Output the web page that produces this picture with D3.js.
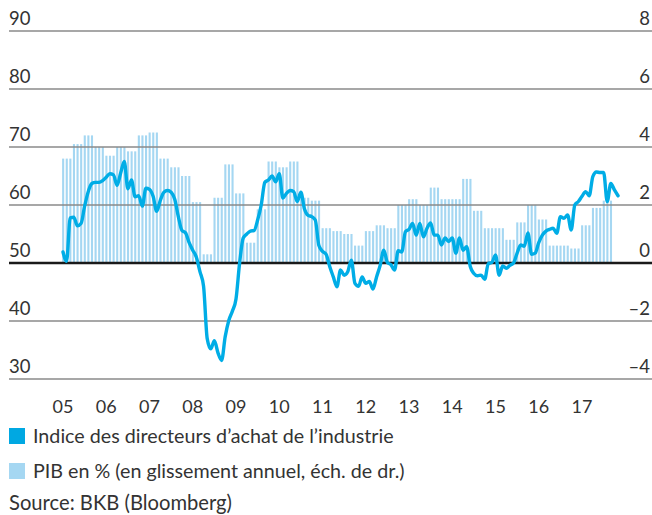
<!DOCTYPE html>
<html>
<head>
<meta charset="utf-8">
<script src="https://cdn.jsdelivr.net/npm/d3@7"></script>
<style>
  body { margin: 0; background: #fff; }
  text { font-family: Lato, "Open Sans", sans-serif; fill: #333; }
</style>
</head>
<body>
<script>
var WIDTH = 652;
var HEIGHT = 515;

// PMI industrie, mensuel, janv. 2005 - nov. 2017
var pmi = [
  51.9, 50.3, 57.8, 57.9, 56.4, 56.8, 59.8, 62.3, 63.7, 63.9, 63.9, 64.2,
  64.8, 65.4, 65.2, 63.4, 65.5, 67.5, 62.8, 64.3, 61.4, 61.6, 59.8, 62.9,
  62.7, 61.5, 58.9, 60.8, 62.2, 62.5, 62.2, 61.0, 58.0, 55.6, 55.2, 53.5,
  52.2, 51.0, 48.5, 46.0, 37.0, 35.2, 36.6, 34.5, 33.2, 37.3, 40.1, 41.7,
  43.8, 50.0, 54.3, 55.0, 55.5, 55.6, 57.4, 60.0, 63.9, 64.3, 65.0, 64.0,
  65.4, 61.2, 62.0, 62.5, 62.3, 60.6, 62.2, 59.3, 58.2, 58.0, 57.4, 53.0,
  52.0, 51.5, 49.4, 47.6, 45.9, 48.8, 47.9, 48.5, 50.5, 46.5, 46.0, 47.6,
  46.5, 46.8, 45.5, 47.6, 49.6, 52.2, 50.1, 49.7, 48.8, 52.1, 51.9, 55.4,
  55.8, 56.8, 54.8, 56.8, 54.5, 56.0, 56.9, 54.8, 54.8, 53.1, 54.3, 53.7,
  54.3, 51.7, 54.3, 52.2, 52.8, 49.4, 48.2, 47.8, 47.9, 47.2, 49.9, 50.1,
  51.4, 47.9, 49.5, 49.1, 49.6, 50.0, 51.7, 53.1, 52.9, 55.2, 51.5, 51.7,
  53.5, 54.8, 55.5, 55.8, 56.0, 55.1, 58.0, 57.7, 58.3, 55.7, 60.0, 60.6,
  61.5, 62.3, 61.6, 64.9, 65.7, 65.6, 65.6, 60.6, 63.7, 62.6, 61.6
];

// PIB en %, trimestriel, T1 2005 - T3 2017
var pib = [
  3.6, 4.1, 4.4, 4.0,
  3.7, 4.0, 3.85, 4.4,
  4.5, 3.6, 3.3, 3.0,
  2.1, 0.3, 2.25, 3.4,
  2.4, 0.7, 1.85, 3.5,
  3.3, 3.5, 2.25, 2.15,
  1.2, 1.1, 1.0, 0.6,
  1.1, 1.3, 1.2, 2.0,
  2.2, 2.0, 2.6, 2.2,
  2.2, 2.9, 1.8, 1.2,
  1.2, 0.8, 1.4, 2.0,
  1.5, 0.6, 0.6, 0.5,
  1.3, 1.9, 2.15
];

var years = ["05", "06", "07", "08", "09", "10", "11", "12", "13", "14", "15", "16", "17"];
var leftTicks = [30, 40, 50, 60, 70, 80, 90];
var rightTicks = [-4, -2, 0, 2, 4, 6, 8];

var svg = d3.select("body")
  .append("svg")
  .attr("width", WIDTH)
  .attr("height", HEIGHT);

// mois depuis janv. 2005
var x = d3.scaleLinear().domain([0, 144]).range([63, 582]);
var yL = d3.scaleLinear().domain([30, 90]).range([379, 31]);
var yR = d3.scaleLinear().domain([-4, 8]).range([379, 31]);

// barres PIB : trois fines barres par trimestre
var months = [];
pib.forEach(function (v, q) {
  for (var m = 0; m < 3; m++) months.push({ i: q * 3 + m, v: v });
});

svg.append("g")
  .selectAll("rect")
  .data(months)
  .enter()
  .append("rect")
  .attr("x", function (d) { return x(d.i) - 0.9; })
  .attr("width", 2.1)
  .attr("y", function (d) { return yR(d.v); })
  .attr("height", function (d) { return yR(0) - yR(d.v); })
  .attr("fill", "#a5d7f2");

// grille
svg.append("g")
  .selectAll("line")
  .data(leftTicks)
  .enter()
  .append("line")
  .attr("x1", 9)
  .attr("x2", WIDTH)
  .attr("y1", function (d) { return yL(d); })
  .attr("y2", function (d) { return yL(d); })
  .attr("stroke", function (d) { return d == 50 ? "#1a1a1a" : "#8a8a8a"; })
  .attr("stroke-width", function (d) { return d == 50 ? 2.4 : 1.3; });

svg.append("g")
  .selectAll("text")
  .data(leftTicks)
  .enter()
  .append("text")
  .attr("x", 9)
  .attr("y", function (d) { return yL(d) - 6; })
  .attr("font-size", 18.5)
  .text(function (d) { return d; });

svg.append("g")
  .selectAll("text")
  .data(rightTicks)
  .enter()
  .append("text")
  .attr("x", 650)
  .attr("y", function (d) { return yR(d) - 6; })
  .attr("font-size", 18.5)
  .attr("text-anchor", "end")
  .text(function (d) { return d < 0 ? "\u2013" + Math.abs(d) : d; });

// ligne PMI
var line = d3.line()
  .x(function (d, i) { return x(i); })
  .y(function (d) { return yL(d); })
  .curve(d3.curveMonotoneX);

svg.append("path")
  .datum(pmi)
  .attr("d", line)
  .attr("fill", "none")
  .attr("stroke", "#00ade6")
  .attr("stroke-width", 3.4)
  .attr("stroke-linejoin", "round")
  .attr("stroke-linecap", "round");

// années
svg.append("g")
  .selectAll("text")
  .data(years)
  .enter()
  .append("text")
  .attr("x", function (d, i) { return x(i * 12); })
  .attr("y", 413)
  .attr("font-size", 18)
  .attr("text-anchor", "middle")
  .text(function (d) { return d; });

// légende
var legend = [
  { label: "Indice des directeurs d\u2019achat de l\u2019industrie", color: "#00a8e2", y: 428 },
  { label: "PIB en % (en glissement annuel, \u00e9ch. de dr.)", color: "#a5d7f2", y: 463 }
];

var lg = svg.append("g")
  .selectAll("g")
  .data(legend)
  .enter()
  .append("g");

lg.append("rect")
  .attr("x", 9)
  .attr("y", function (d) { return d.y; })
  .attr("width", 16)
  .attr("height", 16)
  .attr("fill", function (d) { return d.color; });

lg.append("text")
  .attr("x", 33)
  .attr("y", function (d) { return d.y + 15; })
  .attr("font-size", 19.7)
  .text(function (d) { return d.label; });

svg.append("text")
  .attr("x", 9)
  .attr("y", 510)
  .attr("font-size", 20.2)
  .text("Source: BKB (Bloomberg)");
</script>
</body>
</html>
